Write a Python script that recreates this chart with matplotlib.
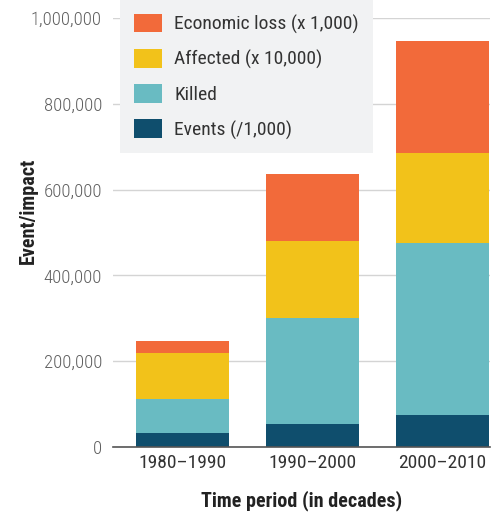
import matplotlib
matplotlib.use('Agg')
import matplotlib.pyplot as plt
from matplotlib.patches import Patch
from matplotlib.ticker import FuncFormatter

plt.rcParams['font.family'] = ['Roboto Condensed', 'DejaVu Sans']

periods = ['1980\u20131990', '1990\u20132000', '2000\u20132010']
events = [33000, 54000, 75000]
killed = [79000, 247000, 401000]
affected = [107000, 179000, 210000]
econ_loss = [28000, 156000, 261000]

series = [
    ('Events (/1,000)', events, '#0f4e6d'),
    ('Killed', killed, '#69bbc2'),
    ('Affected (x 10,000)', affected, '#f2c21a'),
    ('Economic loss (x 1,000)', econ_loss, '#f26a3a'),
]

fig = plt.figure(figsize=(5.01, 5.15), dpi=100)
ax = fig.add_axes([113/501, 1 - 447/515, 377/501, 429/515])

x = range(len(periods))
bottom = [0, 0, 0]
for label, vals, color in series:
    ax.bar(x, vals, 0.715, bottom=bottom, color=color, zorder=2)
    bottom = [b + v for b, v in zip(bottom, vals)]

ax.set_ylim(0, 1000000)
ax.set_xlim(-0.535, 2.365)
ax.set_yticks(range(0, 1000001, 200000))
ax.yaxis.set_major_formatter(FuncFormatter(lambda v, p: f'{int(v):,}'))
ax.grid(axis='y', color='#d4d4d4', lw=1, zorder=0)
for s in ['top', 'right', 'left']:
    ax.spines[s].set_visible(False)
ax.spines['bottom'].set_color('#555555')
ax.spines['bottom'].set_linewidth(1.2)
ax.tick_params(axis='y', length=0, pad=8, labelsize=13.5, labelcolor='#606060')
ax.tick_params(axis='x', length=0, pad=5, labelsize=14, labelcolor='#333333')
for t in ax.get_yticklabels():
    t.set_fontweight('light')
ax.set_xticks(list(x))
ax.set_xticklabels(periods)

ax.set_ylabel('Event/impact', fontsize=14.5, fontweight='bold', color='#222222')
ax.yaxis.set_label_coords(-0.2, 0.55)
ax.set_xlabel('Time period (in decades)', fontsize=14.5, fontweight='bold', color='#222222', labelpad=13)

handles = [Patch(facecolor=c, label=l) for l, v, c in reversed(series)]
leg = fig.legend(handles=handles, loc='upper left', bbox_to_anchor=(120/501, 1.0),
                 frameon=True, fancybox=False, facecolor='#f1f2f3', edgecolor='none',
                 framealpha=1, fontsize=14, handlelength=1.45, handleheight=1.1,
                 labelspacing=0.78, borderpad=0.7, handletextpad=0.65, borderaxespad=0)
for t in leg.get_texts():
    t.set_color('#333333')

fig.savefig('out.png', dpi=100)
